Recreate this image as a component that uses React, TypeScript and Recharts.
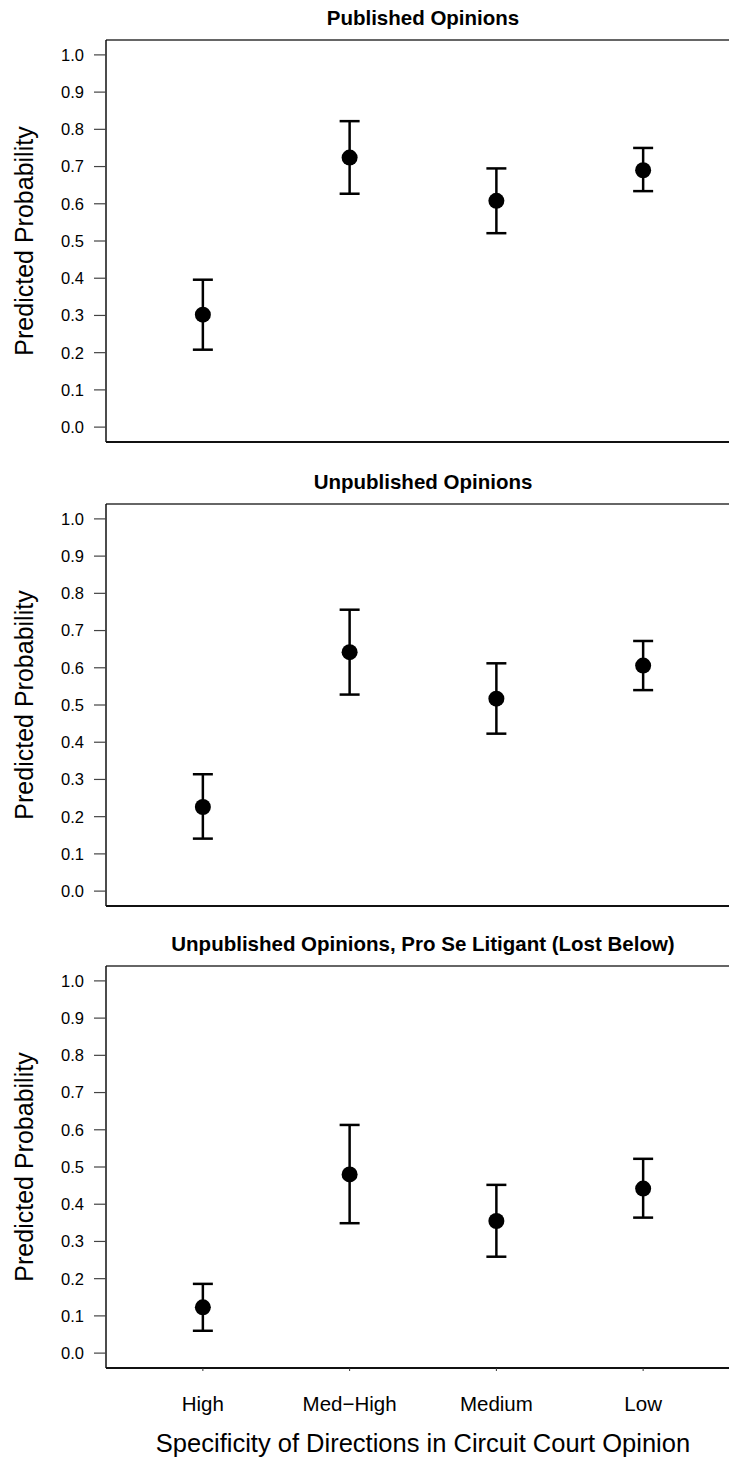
import React from 'react';
import { ComposedChart, Scatter, ErrorBar, XAxis, YAxis, Label, ReferenceLine } from 'recharts';

const categories = ['High', 'Med\u2212High', 'Medium', 'Low'];
const categoryPositions = [1, 2, 3, 4];
const yTicks = [0, 0.1, 0.2, 0.3, 0.4, 0.5, 0.6, 0.7, 0.8, 0.9, 1.0];

const publishedPoint = [0.302, 0.724, 0.608, 0.69];
const publishedLower = [0.208, 0.627, 0.521, 0.634];
const publishedUpper = [0.396, 0.822, 0.695, 0.75];

const unpublishedPoint = [0.226, 0.642, 0.517, 0.606];
const unpublishedLower = [0.141, 0.528, 0.423, 0.54];
const unpublishedUpper = [0.314, 0.756, 0.612, 0.672];

const proSePoint = [0.123, 0.48, 0.355, 0.442];
const proSeLower = [0.06, 0.349, 0.259, 0.364];
const proSeUpper = [0.186, 0.613, 0.452, 0.522];

const FONT = '"Liberation Sans", Arial, Helvetica, sans-serif';
const X_DOMAIN = [0.34, 4.66];
const Y_DOMAIN = [-0.04, 1.04];

function buildRows(point: number[], lower: number[], upper: number[]) {
  return categoryPositions.map((x, i) => ({
    x,
    y: point[i],
    err: [point[i] - lower[i], upper[i] - point[i]],
  }));
}

function YTitle(props: any) {
  const vb = props.viewBox || { y: 0, height: 0 };
  const cy = vb.y + vb.height / 2;
  return (
    <text
      x={24}
      y={cy}
      transform={`rotate(-90 24 ${cy})`}
      textAnchor="middle"
      dominantBaseline="central"
      fontSize={25}
      fontFamily={FONT}
      fill="#000"
    >
      Predicted Probability
    </text>
  );
}

function Dot(props: any) {
  return <circle cx={props.cx} cy={props.cy} r={8} fill="#000" />;
}

type PanelProps = {
  title: string;
  top: number;
  rows: { x: number; y: number; err: number[] }[];
  showLabels?: boolean;
};

function Panel({ title, top, rows, showLabels }: PanelProps) {
  const xHeight = showLabels ? 94 : 20;
  return (
    <div style={{ position: 'absolute', left: 0, top, width: 760 }}>
      <ComposedChart
        width={760}
        height={40 + 402 + xHeight}
        data={rows}
        margin={{ top: 40, right: 20, bottom: 0, left: 0 }}
      >
        <XAxis
          type="number"
          dataKey="x"
          domain={X_DOMAIN}
          ticks={categoryPositions}
          tickFormatter={(v: number) => categories[v - 1]}
          height={xHeight}
          tick={showLabels ? { fontSize: 20.5, fill: '#000', fontFamily: FONT } : false}
          tickSize={3}
          tickMargin={25}
          tickLine={{ stroke: '#333', strokeWidth: 1 }}
          axisLine={{ stroke: '#111', strokeWidth: 2 }}
        />
        <YAxis
          type="number"
          domain={Y_DOMAIN}
          ticks={yTicks}
          tickFormatter={(v: number) => v.toFixed(1)}
          width={106}
          tickSize={12}
          tickMargin={10}
          tick={{ fontSize: 16.5, fill: '#000', fontFamily: FONT }}
          tickLine={{ stroke: '#444', strokeWidth: 1.2 }}
          axisLine={{ stroke: '#111', strokeWidth: 1.5 }}
          label={<Label content={<YTitle />} />}
        />
        <ReferenceLine y={Y_DOMAIN[1]} stroke="#333" strokeWidth={1.5} />
        <Scatter dataKey="y" shape={<Dot />} isAnimationActive={false}>
          <ErrorBar
            dataKey="err"
            direction="y"
            width={10}
            strokeWidth={2.5}
            stroke="#000"
            isAnimationActive={false}
          />
        </Scatter>
      </ComposedChart>
      <div
        style={{
          position: 'absolute',
          left: 106,
          width: 634,
          top: 7,
          textAlign: 'center',
          fontWeight: 'bold',
          fontSize: 20.5,
          lineHeight: '22px',
          fontFamily: FONT,
          whiteSpace: 'nowrap',
        }}
      >
        {title}
      </div>
    </div>
  );
}

export default function App() {
  return (
    <div
      style={{
        position: 'absolute',
        left: 0,
        top: 0,
        width: 729,
        height: 1462,
        overflow: 'hidden',
        background: '#fff',
        fontFamily: FONT,
      }}
    >
      <Panel
        title="Published Opinions"
        top={0}
        rows={buildRows(publishedPoint, publishedLower, publishedUpper)}
      />
      <Panel
        title="Unpublished Opinions"
        top={464}
        rows={buildRows(unpublishedPoint, unpublishedLower, unpublishedUpper)}
      />
      <Panel
        title="Unpublished Opinions, Pro Se Litigant (Lost Below)"
        top={926}
        rows={buildRows(proSePoint, proSeLower, proSeUpper)}
        showLabels
      />
      <div
        style={{
          position: 'absolute',
          left: 106,
          width: 634,
          top: 1429,
          textAlign: 'center',
          fontSize: 25.5,
          lineHeight: '28px',
          fontFamily: FONT,
          whiteSpace: 'nowrap',
        }}
      >
        Specificity of Directions in Circuit Court Opinion
      </div>
    </div>
  );
}
